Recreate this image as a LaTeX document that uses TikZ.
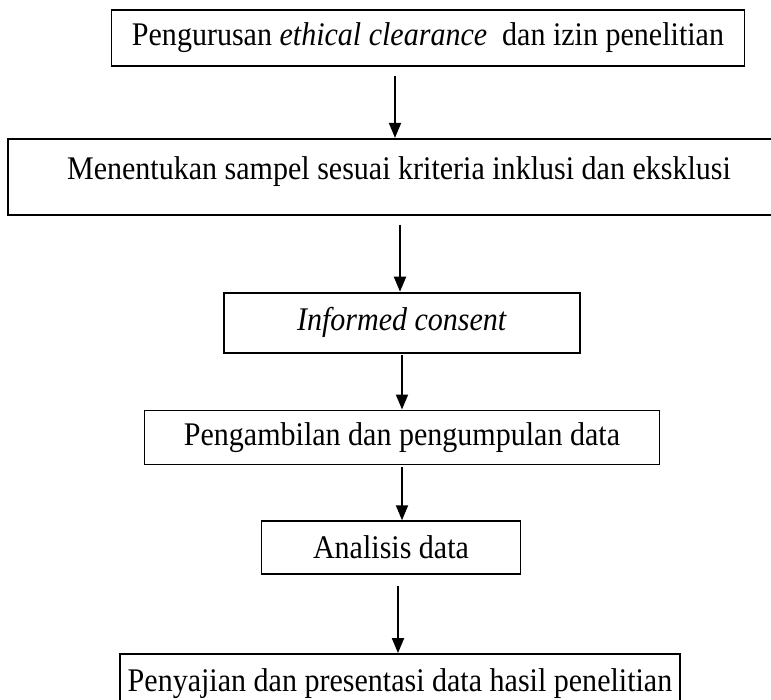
\documentclass[tikz,border=0pt]{standalone}
\usepackage{fontspec}
\setmainfont{Liberation Serif}[FakeStretch=0.91]
\usetikzlibrary{positioning,arrows.meta}

\tikzstyle{stepbox} = [rectangle, draw=black, line width=1.8pt, inner xsep=0pt, inner ysep=0pt, text centered, font=\fontsize{33}{38}\selectfont]
\tikzstyle{flow} = [-{Triangle[length=15pt,width=12pt]}, line width=1.9pt]

\begin{document}
\begin{tikzpicture}[x=1pt,y=-1pt]
    \useasboundingbox (0,0) rectangle (771,699);

    % steps
    \node [stepbox, minimum width=633pt, minimum height=56pt] (izin) at (428,38)
        {Pengurusan \textit{ethical clearance}\ \ dan izin penelitian};
    \node [stepbox, minimum width=782pt, minimum height=76pt, text depth=18pt, below=71pt of izin, xshift=-29pt] (sampel)
        {Menentukan sampel sesuai kriteria inklusi dan eksklusi};
    \node [stepbox, minimum width=356pt, minimum height=60pt, below=76pt of sampel, xshift=3pt] (consent)
        {\textit{Informed consent}};
    \node [stepbox, minimum width=515pt, minimum height=54pt, below=56pt of consent] (data)
        {Pengambilan dan pengumpulan data};
    \node [stepbox, minimum width=259pt, minimum height=53pt, below=55pt of data, xshift=-11pt] (analisis)
        {Analisis data};
    \node [stepbox, minimum width=560pt, text height=33pt, text depth=40pt, inner ysep=4pt, below=78pt of analisis, xshift=9pt] (hasil)
        {Penyajian dan presentasi data hasil penelitian};

    % Paths
    \draw[flow, shorten <=9pt] ([xshift=-33pt]izin.south) -- ([xshift=-4pt]sampel.north);
    \draw[flow, shorten <=9pt] ([xshift=1pt]sampel.south) -- ([xshift=-2pt]consent.north);
    \draw[flow, shorten <=1pt] (consent.south) -- (data.north);
    \draw[flow, shorten <=2pt] (data.south) -- ([xshift=11pt]analisis.north);
    \draw[flow, shorten <=11pt] ([xshift=7pt]analisis.south) -- ([xshift=-2pt]hasil.north);
\end{tikzpicture}
\end{document}
